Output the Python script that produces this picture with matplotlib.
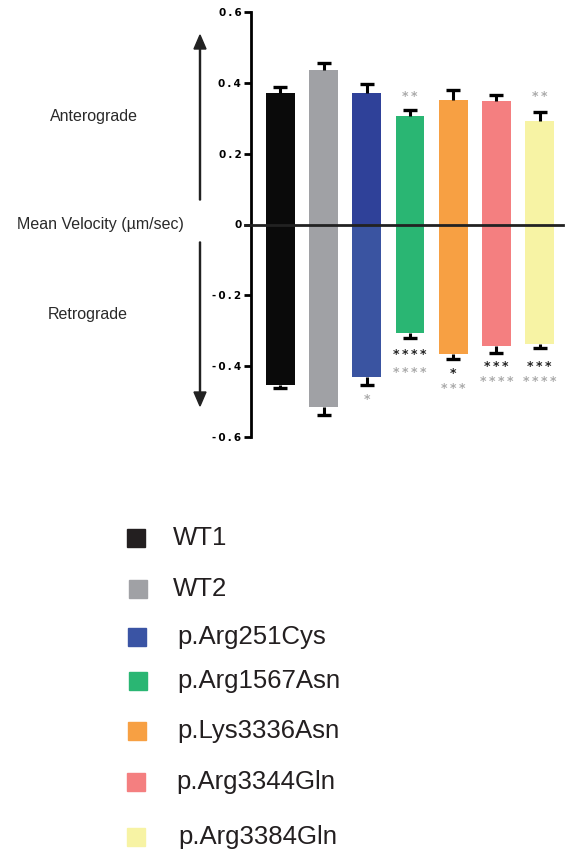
import matplotlib
matplotlib.use("Agg")
import matplotlib.pyplot as plt
from matplotlib.patches import Rectangle, FancyArrow
import numpy as np

plt.rcParams['font.family'] = ['Liberation Sans', 'DejaVu Sans']

# ---- data ----
groups = ["WT1", "WT2", "p.Arg251Cys", "p.Arg1567Asn", "p.Lys3336Asn", "p.Arg3344Gln", "p.Arg3384Gln"]
antero_mean = [0.372, 0.437, 0.372, 0.307, 0.352, 0.349, 0.293]
antero_err = [0.017, 0.019, 0.025, 0.017, 0.028, 0.017, 0.025]
retro_mean = [-0.452, -0.515, -0.430, -0.306, -0.365, -0.343, -0.337]
retro_err = [0.010, 0.023, 0.022, 0.014, 0.015, 0.021, 0.013]
colors_pos = ["#0a0a0a", "#a0a1a5", "#2f4199", "#2ab673", "#f7a043", "#f47f80", "#f7f3a4"]
colors_neg = ["#0a0a0a", "#a0a1a5", "#3a54a1", "#2ab673", "#f7a043", "#f47f80", "#f7f3a4"]
legend_colors = ["#231f20", "#a0a1a5", "#3a54a4", "#2ab673", "#f7a043", "#f47f80", "#f7f3a4"]
# significance marks: (bar index, text, y position in data units)
sig_top = [(3, "**", 0.367), (6, "**", 0.367)]
sig_bottom_black = [(3, "****", -0.360), (4, "*", -0.414), (5, "***", -0.394), (6, "***", -0.394)]
sig_bottom_gray = [(2, "*", -0.486), (3, "****", -0.411), (4, "***", -0.456), (5, "****", -0.436), (6, "****", -0.436)]
yticks = [0.6, 0.4, 0.2, 0, -0.2, -0.4, -0.6]
ytick_labels = ["0.6", "0.4", "0.2", "0", "-0.2", "-0.4", "-0.6"]

W, H = 573, 860
fig = plt.figure(figsize=(W / 100, H / 100), dpi=100)

def fx(x):
    return x / W

def fy(y):
    return 1 - y / H

def spaced(s, sep="\u2009"):
    return sep.join(s)

ax = fig.add_axes([fx(251), fy(437), fx(563) - fx(251), (437 - 12) / H])
x = np.arange(len(groups))
bw = 0.67
ax.bar(x, antero_mean, width=bw, color=colors_pos, zorder=2)
ax.bar(x, retro_mean, width=bw, color=colors_neg, zorder=2)

# one-sided error bars (outward only)
ap = np.array(antero_mean) + np.array(antero_err)
rn = np.array(retro_mean) - np.array(retro_err)
ax.vlines(x, antero_mean, ap, color="black", lw=2.2, zorder=3)
ax.vlines(x, retro_mean, rn, color="black", lw=2.2, zorder=3)
ax.plot(x, ap, ls="none", marker="_", ms=10, mew=2.4, color="black", zorder=3)
ax.plot(x, rn, ls="none", marker="_", ms=10, mew=2.4, color="black", zorder=3)

ax.set_xlim(-0.683, 6.544)
ax.set_ylim(-0.6, 0.6)
ax.axhline(0, xmin=-0.02, xmax=1.0, color="#222222", lw=2.0, clip_on=False, zorder=4)

for s in ["top", "right", "bottom"]:
    ax.spines[s].set_visible(False)
ax.spines["left"].set_linewidth(2.0)
ax.set_xticks([])
ax.set_yticks(yticks)
ax.set_yticklabels([spaced(t) for t in ytick_labels], fontsize=7.5, fontweight="bold",
                   family=["DejaVu Sans"])
ax.tick_params(axis="y", length=5, width=2.0, pad=2)

sfs = 9
shift = -0.007  # compensate asterisk sitting high in its text box
star_kw = dict(ha="center", va="center", fontsize=sfs, fontweight="bold", family=["DejaVu Sans"])
for i, t, yv in sig_top:
    ax.text(x[i], yv + shift, spaced(t), color="#aaaaaa", **star_kw)
for i, t, yv in sig_bottom_black:
    ax.text(x[i], yv + shift, spaced(t), color="#222222", **star_kw)
for i, t, yv in sig_bottom_gray:
    ax.text(x[i], yv + shift, spaced(t), color="#aaaaaa", **star_kw)

fig.add_artist(FancyArrow(fx(200), fy(200), 0, fy(35) - fy(200), width=0.0018,
                          head_width=fx(12), head_length=14 / H,
                          length_includes_head=True, color="#222222",
                          transform=fig.transFigure))
fig.add_artist(FancyArrow(fx(200), fy(242), 0, fy(406) - fy(242), width=0.0018,
                          head_width=fx(12), head_length=14 / H,
                          length_includes_head=True, color="#222222",
                          transform=fig.transFigure))
lfs = 11.5
fig.text(fx(94), fy(116), "Anterograde", ha="center", va="center", fontsize=lfs, color="#2a2a2a")
fig.text(fx(100), fy(224), "Mean Velocity (µm/sec)", ha="center", va="center", fontsize=lfs, color="#2a2a2a")
fig.text(fx(88), fy(314), "Retrograde", ha="center", va="center", fontsize=lfs, color="#2a2a2a")

sq_y = [538, 589, 637, 681, 731, 782, 837]
sq_x = [127, 129, 128, 129, 128, 127, 127]
tx_x = [173, 173, 177, 177, 177, 176, 178]
for g, c, yy, sx, tx in zip(groups, legend_colors, sq_y, sq_x, tx_x):
    fig.add_artist(Rectangle((fx(sx), fy(yy + 9)), fx(18), 18 / H, color=c,
                             transform=fig.transFigure))
    fig.text(fx(tx), fy(yy), g, ha="left", va="center", fontsize=18.5, color="#231f20")

fig.savefig("out.png", dpi=100)
